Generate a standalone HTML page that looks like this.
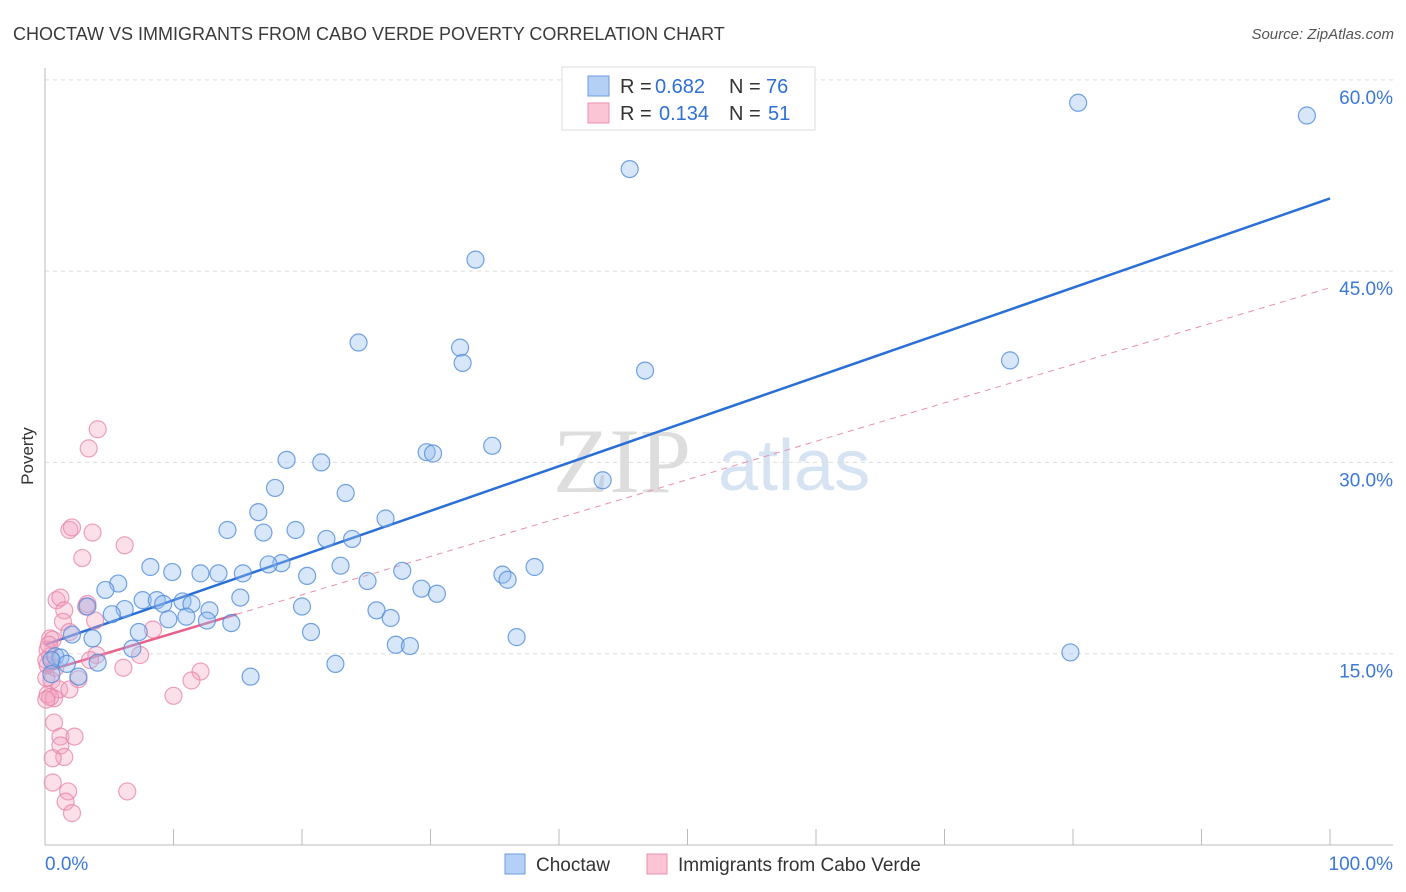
<!DOCTYPE html>
<html><head><meta charset="utf-8"><style>
body{margin:0;background:#fff;font-family:"Liberation Sans",sans-serif;}
svg{display:block}
</style></head><body>
<svg id="chart" width="1406" height="892" xmlns="http://www.w3.org/2000/svg">
<text x="13" y="40" font-size="18" fill="#3a3a3a">CHOCTAW VS IMMIGRANTS FROM CABO VERDE POVERTY CORRELATION CHART</text>
<text x="1394" y="39" font-size="15" fill="#555" font-style="italic" text-anchor="end">Source: ZipAtlas.com</text>
<text x="33" y="456" font-size="17" fill="#333" text-anchor="middle" transform="rotate(-90 33 456)">Poverty</text>
<g><text x="553" y="492" font-size="92" fill="#ddd" font-family="Liberation Serif,serif">ZIP</text><text x="718" y="490" font-size="72" fill="#d6e3f3">atlas</text></g>
<g id="grid"></g><g id="axes"></g><g id="trends"></g><g id="pts"></g>
<g>
<rect x="562" y="67" width="253" height="63" fill="#fff" stroke="#ddd"/>
<rect x="588" y="76" width="21" height="20" fill="#b4d0f4" stroke="#6d9be0"/>
<rect x="588" y="103" width="21" height="20" fill="#fbc5d5" stroke="#ec8fae"/>
<text x="620" y="93" font-size="20" fill="#333">R =</text>
<text x="655" y="93" font-size="20" fill="#2f6fd6">0.682</text>
<text x="729" y="93" font-size="20" fill="#333">N =</text>
<text x="766" y="93" font-size="20" fill="#2f6fd6">76</text>
<text x="620" y="120" font-size="20" fill="#333">R =</text>
<text x="659" y="120" font-size="20" fill="#2f6fd6">0.134</text>
<text x="729" y="120" font-size="20" fill="#333">N =</text>
<text x="768" y="120" font-size="20" fill="#2f6fd6">51</text>
</g>
<g>
<rect x="505" y="854" width="20" height="20" fill="#b4d0f4" stroke="#6d9be0"/>
<text x="536" y="871" font-size="19" fill="#333">Choctaw</text>
<rect x="647" y="854" width="20" height="20" fill="#fbc5d5" stroke="#ec8fae"/>
<text x="678" y="871" font-size="19" fill="#333">Immigrants from Cabo Verde</text>
</g>
</svg>
<script>
const yTicks=[15,30,45,60];
const yTickLabels=["15.0%","30.0%","45.0%","60.0%"];
const xLabels=["0.0%","100.0%"];
const blueX=[80.4,98.2,45.5,33.5,24.4,32.3,32.5,46.7,75.1,34.8,29.7,30.2,43.4,18.8,21.5,17.9,23.4,26.5,16.6,14.2,17.0,19.5,21.9,23.9,18.4,17.4,8.2,9.9,12.1,13.5,15.4,20.4,23.0,27.8,25.1,35.6,36.0,38.1,5.7,4.7,29.3,30.5,15.2,7.6,8.7,10.7,9.2,11.4,3.3,6.2,5.2,12.8,20.0,25.8,26.9,9.6,11.0,12.6,14.5,7.3,2.1,3.7,20.7,36.7,27.3,28.4,6.8,0.8,1.2,0.5,1.7,4.1,22.6,79.8,16.0,2.6,0.5];
const blueY=[58.2,57.2,53.0,45.9,39.4,39.0,37.8,37.2,38.0,31.3,30.8,30.7,28.6,30.2,30.0,28.0,27.6,25.6,26.1,24.7,24.5,24.7,24.0,24.0,22.1,22.0,21.8,21.4,21.3,21.3,21.3,21.1,21.9,21.5,20.7,21.2,20.8,21.8,20.5,20.0,20.1,19.7,19.4,19.2,19.2,19.1,18.9,18.9,18.7,18.5,18.1,18.4,18.7,18.4,17.8,17.7,17.9,17.6,17.4,16.7,16.5,16.2,16.7,16.3,15.7,15.6,15.4,14.8,14.7,14.5,14.2,14.3,14.2,15.1,13.2,13.2,13.4];
const pinkX=[4.1,3.4,1.9,2.1,3.7,6.2,2.9,0.9,1.2,3.3,3.2,1.5,1.4,3.9,8.4,1.9,0.4,0.6,7.4,4.0,3.5,0.4,6.1,12.1,11.4,2.6,0.5,0.1,1.1,1.9,0.2,10.0,0.7,0.4,0.1,0.7,1.2,2.3,1.2,1.5,0.6,6.4,1.8,0.6,1.6,2.1,0.2,0.2,0.3,0.1,0.8];
const pinkY=[32.6,31.1,24.7,24.9,24.5,23.5,22.5,19.2,19.4,18.9,18.7,18.4,17.5,17.6,16.9,16.7,16.2,16.1,14.9,14.9,14.5,14.8,13.9,13.6,12.9,13.0,12.9,13.1,12.2,12.2,11.8,11.7,11.5,11.6,11.4,9.6,8.5,8.5,7.8,6.9,6.8,4.2,4.2,4.9,3.4,2.5,15.3,14.1,15.7,14.5,13.9];
const blueTrend=[15.7,50.7];
const pinkTrend=[13.6,43.7];
const pinkSolidEnd=14.9;
const NS="http://www.w3.org/2000/svg";
const X=v=>45+v*12.85, Y=v=>845-v*12.753;
function mk(tag,attrs,parent){const e=document.createElementNS(NS,tag);for(const k in attrs)e.setAttribute(k,attrs[k]);parent.appendChild(e);return e;}
const grid=document.getElementById('grid'),axes=document.getElementById('axes'),trends=document.getElementById('trends'),pts=document.getElementById('pts');
yTicks.forEach((t,i)=>{
 const l=mk('line',{x1:45,x2:1393,y1:Y(t),y2:Y(t),stroke:'#ddd','stroke-dasharray':'4,4'},grid);
 
 
 const tx=mk('text',{x:1393,y:Y(t)+24,'font-size':19,fill:'#3b78d8','text-anchor':'end'},grid);
 tx.textContent=yTickLabels[i];
 
 
});
mk('line',{x1:45,x2:45,y1:68,y2:845,stroke:'#bbb'},axes);
mk('line',{x1:45,x2:1393,y1:845,y2:845,stroke:'#bbb'},axes);
for(let i=0;i<=10;i++){const t=mk('line',{x1:X(i*10),x2:X(i*10),y1:829,y2:845,stroke:'#bbb'},axes);
 
 }
const xl0=mk('text',{x:45,y:870,'font-size':19,fill:'#3b78d8'},axes);xl0.textContent=xLabels[0];


const xl1=mk('text',{x:1393,y:870,'font-size':19,fill:'#3b78d8','text-anchor':'end'},axes);xl1.textContent=xLabels[1];


function dot(x,y,fill,stroke,name){const c=mk('circle',{cx:X(x),cy:Y(y),r:8.5,fill:fill,stroke:stroke,'stroke-width':1.2},pts);
 
 }
pinkX.forEach((x,i)=>dot(x,pinkY[i],'rgba(244,160,190,0.33)','rgba(232,130,165,0.75)','cabo-verde-point'));
blueX.forEach((x,i)=>dot(x,blueY[i],'rgba(150,190,238,0.38)','rgba(80,140,220,0.8)','choctaw-point'));
const pi=x=>pinkTrend[0]+(pinkTrend[1]-pinkTrend[0])*x/100;
const bl=mk('line',{x1:X(0),y1:Y(blueTrend[0]),x2:X(100),y2:Y(blueTrend[1]),stroke:'#2a6fd6','stroke-width':2.5},trends);


const pd=mk('line',{x1:X(pinkSolidEnd),y1:Y(pi(pinkSolidEnd)),x2:X(100),y2:Y(pinkTrend[1]),stroke:'#e890ad','stroke-width':1,'stroke-dasharray':'6,5'},trends);


const ps=mk('line',{x1:X(0),y1:Y(pinkTrend[0]),x2:X(pinkSolidEnd),y2:Y(pi(pinkSolidEnd)),stroke:'#e8628c','stroke-width':2.5},trends);


</script>
</body></html>
